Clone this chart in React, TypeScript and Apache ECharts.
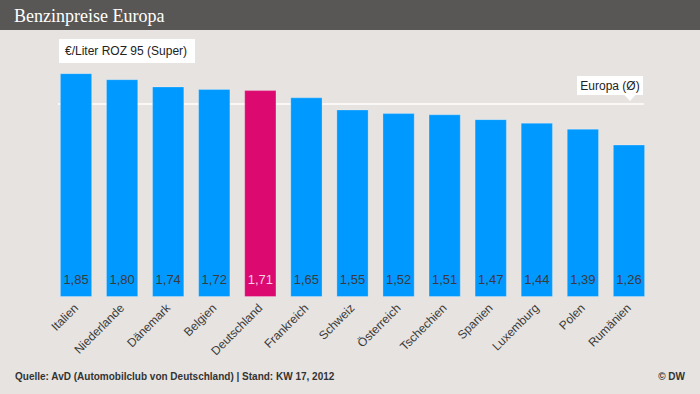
import React, { useEffect, useRef } from "react";
import * as echarts from "echarts";

const countries = ["Italien", "Niederlande", "Dänemark", "Belgien", "Deutschland", "Frankreich", "Schweiz", "Österreich", "Tschechien", "Spanien", "Luxemburg", "Polen", "Rumänien"];
const prices = [1.85, 1.80, 1.74, 1.72, 1.71, 1.65, 1.55, 1.52, 1.51, 1.47, 1.44, 1.39, 1.26];
const highlighted = "Deutschland";
const europeAverage = 1.595;

const BLUE = "#0099ff";
const PINK = "#dc0a70";

export default function App() {
  const ref = useRef<HTMLDivElement>(null);
  useEffect(() => {
    const chart = echarts.init(ref.current!, null, { renderer: "svg" });
    const fmt = (v: number) => v.toFixed(2).replace(".", ",");
    const option: any = {
      animation: false,
      backgroundColor: "#e6e3e0",
      grid: { left: 53, right: 48, top: 55, bottom: 97 },
      xAxis: {
        type: "category",
        data: countries,
        axisLine: { show: false },
        axisTick: { show: false },
        axisLabel: {
          rotate: 45,
          interval: 0,
          margin: 9,
          color: "#3a3a3a",
          fontSize: 12,
          fontFamily: "Liberation Sans, Arial, sans-serif",
        },
      },
      yAxis: { type: "value", min: 0, max: 2, show: false, splitLine: { show: false } },
      series: [
        {
          type: "bar",
          barCategoryGap: "30%",
          data: prices.map((v, i) => ({
            value: v,
            itemStyle: {
              color: countries[i] === highlighted ? PINK : BLUE,
              borderColor: "rgba(255,255,255,0.25)",
              borderWidth: 1,
            },
            label: { color: countries[i] === highlighted ? "#f4d0e0" : "#3a3a3a" },
          })),
          label: {
            show: true,
            position: "insideBottom",
            distance: 11,
            fontSize: 13,
            fontFamily: "Liberation Sans, Arial, sans-serif",
            formatter: (p: any) => fmt(p.value),
          },
        },
      ],
      graphic: [
        { type: "rect", shape: { x: 0, y: 0, width: 700, height: 30 }, style: { fill: "#595755" } },
        {
          type: "text", x: 14, y: 16,
          style: { text: "Benzinpreise Europa", fill: "#ffffff", font: "18px 'Liberation Serif', serif", verticalAlign: "middle" },
        },
        { type: "rect", shape: { x: 59, y: 39, width: 136, height: 24 }, style: { fill: "#ffffff" } },
        {
          type: "text", x: 65, y: 51,
          style: { text: "€/Liter ROZ 95 (Super)", fill: "#222", font: "12px 'Liberation Sans', Arial, sans-serif", verticalAlign: "middle" },
        },
        {
          type: "text", x: 15, y: 376,
          style: { text: "Quelle: AvD (Automobilclub von Deutschland) | Stand: KW 17, 2012", fill: "#333", font: "bold 10px 'Liberation Sans', Arial, sans-serif", verticalAlign: "middle" },
        },
        {
          type: "text", x: 685, y: 376,
          style: { text: "© DW", fill: "#333", font: "bold 10px 'Liberation Sans', Arial, sans-serif", verticalAlign: "middle", align: "right" },
        },
      ],
    };
    chart.setOption(option);
    const yLine = chart.convertToPixel({ gridIndex: 0 }, [0, europeAverage])[1];
    chart.setOption({
      graphic: [
        ...option.graphic,
        { type: "line", shape: { x1: 58, y1: yLine, x2: 644, y2: yLine }, style: { stroke: "#ffffff", lineWidth: 1.5 } },
        { type: "rect", shape: { x: 577, y: yLine - 28, width: 66, height: 19 }, style: { fill: "#ffffff" } },
        { type: "polygon", shape: { points: [[624, yLine - 9.5], [636, yLine - 9.5], [630, yLine - 3]] }, style: { fill: "#ffffff" } },
        {
          type: "text", x: 610, y: yLine - 18.5,
          style: { text: "Europa (Ø)", fill: "#222", font: "12px 'Liberation Sans', Arial, sans-serif", verticalAlign: "middle", align: "center" },
        },
      ],
    }, { replaceMerge: ["graphic"] });
    return () => chart.dispose();
  }, []);
  return <div ref={ref} style={{ position: "fixed", left: 0, top: 0, width: 700, height: 394 }} />;
}
